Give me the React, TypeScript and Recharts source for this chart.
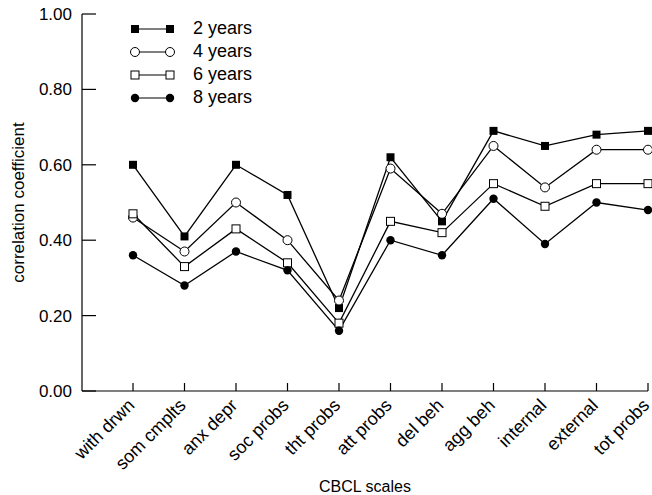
import React from "react";
import { LineChart, Line, XAxis, YAxis, Legend } from "recharts";

const scales = [
  "with drwn",
  "som cmplts",
  "anx depr",
  "soc probs",
  "tht probs",
  "att probs",
  "del beh",
  "agg beh",
  "internal",
  "external",
  "tot probs",
];

const years2 = [0.6, 0.41, 0.6, 0.52, 0.22, 0.62, 0.45, 0.69, 0.65, 0.68, 0.69];
const years4 = [0.46, 0.37, 0.5, 0.4, 0.24, 0.59, 0.47, 0.65, 0.54, 0.64, 0.64];
const years6 = [0.47, 0.33, 0.43, 0.34, 0.18, 0.45, 0.42, 0.55, 0.49, 0.55, 0.55];
const years8 = [0.36, 0.28, 0.37, 0.32, 0.16, 0.4, 0.36, 0.51, 0.39, 0.5, 0.48];

const yTicks = [0, 0.2, 0.4, 0.6, 0.8, 1.0];

const data = scales.map((s, i) => ({
  scale: s,
  y2: years2[i],
  y4: years4[i],
  y6: years6[i],
  y8: years8[i],
}));

const FONT = "'Liberation Sans', Arial, Helvetica, sans-serif";

type MarkerKind = "fillSquare" | "openCircle" | "openSquare" | "fillCircle";

const Marker = ({ cx, cy, kind }: { cx: number; cy: number; kind: MarkerKind }) => {
  if (cx == null || cy == null) return null;
  switch (kind) {
    case "fillSquare":
      return <rect x={cx - 4} y={cy - 4} width={8} height={8} fill="#000" />;
    case "openSquare":
      return <rect x={cx - 4} y={cy - 4} width={8} height={8} fill="#fff" stroke="#000" strokeWidth={1} />;
    case "openCircle":
      return <circle cx={cx} cy={cy} r={4.5} fill="#fff" stroke="#000" strokeWidth={1} />;
    default:
      return <circle cx={cx} cy={cy} r={4.2} fill="#000" />;
  }
};

const makeDot = (kind: MarkerKind) => (props: any) => (
  <Marker key={`${kind}-${props.index}`} cx={props.cx} cy={props.cy} kind={kind} />
);

const seriesList: { key: string; name: string; kind: MarkerKind }[] = [
  { key: "y2", name: "2 years", kind: "fillSquare" },
  { key: "y4", name: "4 years", kind: "openCircle" },
  { key: "y6", name: "6 years", kind: "openSquare" },
  { key: "y8", name: "8 years", kind: "fillCircle" },
];

const LegendBox = () => (
  <div>
    {seriesList.map((s) => (
      <div key={s.key} style={{ display: "flex", alignItems: "center", height: 23 }}>
        <svg width={56} height={14}>
          <line x1={8} y1={7} x2={43} y2={7} stroke="#000" strokeWidth={1.2} />
          <Marker cx={8} cy={7} kind={s.kind} />
          <Marker cx={43} cy={7} kind={s.kind} />
        </svg>
        <span style={{ fontFamily: FONT, fontSize: 18, color: "#000", marginLeft: 10 }}>{s.name}</span>
      </div>
    ))}
  </div>
);

const YTick = (props: any) => {
  const { x, y, payload } = props;
  return (
    <g>
      <line x1={x + 10} y1={y} x2={x + 24} y2={y} stroke="#000" strokeWidth={1.2} />
      <text x={x} y={y} dy={6} textAnchor="end" fontFamily={FONT} fontSize={17} fill="#000">
        {Number(payload.value).toFixed(2)}
      </text>
    </g>
  );
};

const XTick = (props: any) => {
  const { x, y, payload } = props;
  return (
    <g>
      <line x1={x} y1={y} x2={x} y2={y - 8} stroke="#000" strokeWidth={1.2} />
      <g transform={`translate(${x - 6},${y + 7}) rotate(-45)`}>
        <text x={0} y={0} dy={12} textAnchor="end" fontFamily={FONT} fontSize={18} fill="#000">
          {payload.value}
        </text>
      </g>
    </g>
  );
};

export default function App() {
  return (
    <div style={{ position: "absolute", left: 0, top: 0, background: "#fff" }}>
      <LineChart
        width={652}
        height={495}
        data={data}
        margin={{ top: 14, right: 4, left: 0, bottom: 0 }}
      >
        <XAxis
          dataKey="scale"
          type="category"
          padding={{ left: 51, right: 0 }}
          interval={0}
          tickSize={0}
          tickMargin={0}
          tickLine={false}
          tick={<XTick />}
          height={104}
          axisLine={{ stroke: "#000", strokeWidth: 1.2 }}
          label={{
            value: "CBCL scales",
            position: "insideBottom",
            offset: 3,
            fontFamily: FONT,
            fontSize: 16,
            fill: "#000",
          }}
        />
        <YAxis
          domain={[0, 1]}
          ticks={yTicks}
          width={82}
          tickSize={0}
          tickMargin={10}
          tickLine={false}
          tick={<YTick />}
          axisLine={{ stroke: "#000", strokeWidth: 1.2 }}
          label={{
            value: "correlation coefficient",
            angle: -90,
            position: "center",
            dx: -23,
            fontFamily: FONT,
            fontSize: 17,
            fill: "#000",
          }}
        />
        <Legend
          layout="vertical"
          verticalAlign="middle"
          align="center"
          content={<LegendBox />}
          wrapperStyle={{ position: "absolute", left: 127, top: 17, width: 160, height: 92 }}
        />
        {seriesList.map((s) => (
          <Line
            key={s.key}
            dataKey={s.key}
            name={s.name}
            stroke="#000"
            strokeWidth={1.3}
            dot={makeDot(s.kind)}
            activeDot={false}
            isAnimationActive={false}
          />
        ))}
      </LineChart>
    </div>
  );
}
